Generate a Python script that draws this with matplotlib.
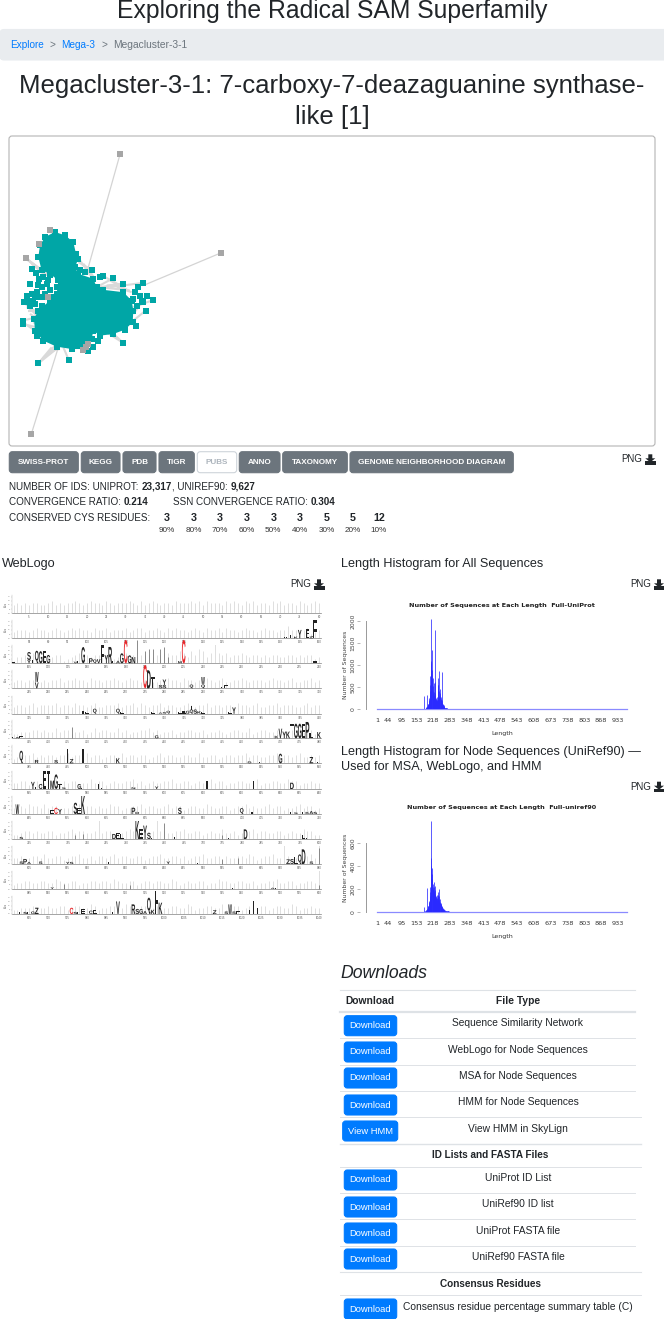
# -*- coding: utf-8 -*-
# Megacluster page: network, weblogo, two length histograms, downloads table
import matplotlib
matplotlib.use("Agg")
import matplotlib.pyplot as plt
from matplotlib.collections import LineCollection
from matplotlib.font_manager import FontProperties
from matplotlib.patches import FancyBboxPatch, PathPatch, Polygon
from matplotlib.textpath import TextPath
from matplotlib.transforms import Affine2D

W, H = 664, 1319
UI_FONT = "Liberation Sans"

# network layout, in layout units
blob_x = [165, 195, 220, 228, 235, 225, 235, 280, 290, 310, 370, 395, 400, 398, 375, 340, 300, 280, 275, 250, 215, 170, 130, 105, 102, 115, 150, 170, 175, 150, 125, 115, 120, 135]
blob_y = [305, 315, 335, 370, 385, 410, 430, 445, 470, 478, 485, 510, 540, 575, 597, 610, 615, 600, 625, 655, 655, 648, 630, 600, 565, 540, 510, 490, 450, 430, 420, 380, 345, 320]
teal_x = [277, 340, 370, 430, 415, 405, 440, 458, 430, 410, 437, 408, 370, 206, 115, 68, 68, 110, 72, 80, 95, 105, 90, 95, 108, 118, 115, 110, 130, 150, 180, 125, 130, 105, 295, 280, 265, 310, 300, 228, 240, 255, 150, 140, 170, 100, 125, 85, 90, 135, 150, 120, 145, 160, 420, 425, 400]
teal_y = [420, 443, 460, 457, 470, 485, 495, 509, 515, 525, 540, 585, 637, 687, 698, 570, 580, 615, 515, 495, 490, 500, 460, 415, 428, 445, 465, 485, 440, 435, 440, 470, 500, 520, 632, 650, 660, 437, 440, 380, 420, 425, 480, 460, 470, 510, 525, 510, 525, 490, 515, 500, 450, 500, 495, 510, 505]
gray_x = [360, 664, 149, 116, 77, 143, 94, 258, 250, 265]
gray_y = [73, 367, 298, 340, 383, 500, 909, 650, 658, 640]
long_x0 = [360, 664, 94]
long_y0 = [73, 367, 909]
long_x1 = [265, 430, 175]
long_y1 = [410, 465, 650]
edge_x0 = [77, 77, 77, 85, 95, 277, 250, 340, 370, 370, 430, 440, 458, 437, 408, 68, 68, 68, 72, 80, 115, 115, 115, 130, 150, 206, 370, 370, 340, 149, 116, 90, 100, 180, 170, 310, 300, 240, 260, 330, 350, 85, 95]
edge_y0 = [383, 383, 383, 390, 400, 420, 400, 443, 460, 460, 457, 495, 509, 540, 585, 570, 580, 575, 515, 530, 698, 698, 698, 680, 660, 687, 637, 637, 615, 298, 340, 550, 575, 460, 490, 437, 470, 390, 410, 450, 470, 540, 560]
edge_x1 = [130, 120, 150, 140, 150, 235, 275, 290, 300, 320, 330, 400, 400, 400, 395, 110, 110, 120, 115, 130, 175, 165, 155, 175, 180, 190, 320, 335, 310, 165, 125, 120, 125, 185, 190, 370, 390, 275, 285, 385, 395, 125, 125]
edge_y1 = [430, 415, 440, 430, 440, 395, 430, 470, 470, 465, 470, 550, 530, 570, 570, 560, 590, 610, 560, 550, 650, 645, 650, 650, 655, 650, 605, 605, 600, 310, 350, 570, 590, 490, 470, 470, 480, 440, 445, 480, 485, 540, 550]

# length histograms
hist_len = list(range(176, 301))
hist_all = [2, 3, 3, 4, 5, 8, 310, 12, 10, 8, 10, 12, 15, 18, 25, 35, 45, 50, 60, 320, 70, 85, 100, 110, 130, 150, 180, 220, 260, 330, 420, 560, 760, 1100, 2050, 1050, 800, 680, 900, 1340, 720, 520, 420, 340, 320, 300, 400, 600, 1800, 620, 380, 300, 260, 240, 220, 210, 200, 190, 220, 280, 420, 560, 540, 700, 870, 420, 300, 260, 320, 470, 360, 280, 220, 200, 240, 850, 220, 170, 130, 110, 100, 95, 105, 90, 70, 60, 50, 40, 35, 30, 28, 25, 22, 20, 25, 22, 20, 18, 15, 15, 14, 12, 12, 10, 10, 9, 8, 8, 7, 7, 6, 6, 5, 5, 4, 4, 4, 3, 3, 3, 2, 2, 2, 2, 1]
hist_node = [1, 1, 2, 2, 3, 3, 40, 4, 3, 3, 4, 5, 6, 8, 10, 14, 18, 20, 25, 210, 30, 35, 40, 50, 55, 65, 75, 85, 100, 120, 140, 170, 220, 300, 790, 470, 400, 380, 330, 290, 240, 220, 200, 190, 180, 170, 220, 260, 230, 190, 160, 150, 140, 130, 120, 115, 110, 105, 120, 145, 135, 125, 150, 170, 200, 140, 110, 100, 115, 90, 80, 75, 70, 65, 60, 50, 45, 40, 35, 32, 30, 28, 25, 22, 20, 18, 16, 14, 13, 12, 11, 10, 9, 9, 12, 9, 8, 7, 7, 6, 6, 5, 5, 4, 4, 4, 3, 3, 3, 3, 2, 2, 2, 2, 2, 1, 1, 1, 1, 1, 1, 1, 1, 1, 1]
hist_ticks = [1, 44, 95, 153, 218, 283, 348, 413, 478, 543, 608, 673, 738, 803, 868, 933]

# weblogo: grey stack height per position, digit = half bits
logo_bars = [
    "45454554456454556545655465455565464565455465556564655546565465645546564554654565",
    "34443454434543454544354453444534553445435454434543544535443454434544344644345234",
    "13344523433441234544344344234544344434455446536476359545344543443434433443434423",
    "34434423434453445443544344543454434533445443544344543453344543444345443453344534",
    "34434534444534435443453344453445354344534433454344534434435443453344534443345344",
    "22333443433534423342353443353423344534233423344334233432344335234433423344534423",
    "23444534344344534435344234435344344234534433443353344234434453443344534434533434",
    "33442343344534344233534423433445342343344533442343353442334433452334433544233433",
    "34435443534423344534434335442334453443345344234433543344234453433453442334534423",
    "22344343344233453443349344233454344349443344533442343353342344534433442343354422",
    "33423443533442344533424434534433442344533443423445334424334435423445339423344539",
    "23344334433543344233443443543344234434433542343344233544334433423344533442334439",
    "22333423343344234433542334433542344334233443354233443352344234334423443354233433",
]

# logo letters per row: position, residue, base in bits, height in bits
logo_r01 = []
logo_r02 = [(71, "T", 0, .4), (72, "L", 0, .4), (73, "L", 0, .8), (74, "K", 0, .4), (75, "Y", 0, 2.0), (77, "E", 0, 2.2), (78, "Z", 0, .5), (79, "F", 0, 4.3)]
logo_r03 = [(1, "F", 0, .4), (5, "S", .8, 1.9), (5, "Y", 0, .8), (6, "T", 0, .9), (7, "Q", 0, 3.0), (8, "G", 0, 2.9), (9, "E", 0, 2.9), (10, "G", 0, 2.0), (17, "V", 0, .4), (18, "L", 0, .5), (19, "G", 0, 3.9), (21, "P", 0, 1.2), (22, "Q", 0, .9), (23, "V", 0, 1.0), (24, "F", 0, 4.3), (25, "Y", 0, 2.0), (26, "R", 0, 3.9), (27, "E", 0, .6), (28, "A", 0, .6), (29, "G", 0, 2.4), (31, "G", 0, 1.9), (32, "N", 0, 1.5), (44, "M", 0, .5), (79, "F", 0, .5)]
logo_r04 = [(7, "W", 1.5, 2.4), (7, "V", 0, 1.4), (36, "D", 0, 4.3), (37, "T", 0, 2.7), (39, "S", 0, .8), (40, "Y", .8, 1.3), (40, "S", 0, .8), (47, "Q", 0, .9), (50, "W", 1.0, 1.7), (50, "Q", 0, .9), (55, "L", 0, .3), (56, "E", 0, .7)]
logo_r05 = [(19, "I", 0, .7), (20, "L", 0, .3), (22, "Q", 0, 1.2), (28, "Q", 0, 1.2), (29, "L", 0, .3), (37, "L", 0, .3), (39, "A", 0, .3), (40, "S", 0, .4), (41, "Q", 0, .7), (44, "L", 0, .5), (45, "E", 0, .6), (46, "G", 0, .7), (47, "Q", 0, 1.0), (47, "T", 1.0, .9), (48, "S", 0, 1.0), (49, "K", 0, .6), (50, "E", 0, .4), (57, "L", 0, .3), (58, "Y", 0, 1.5)]
logo_r06 = [(1, "L", 0, .3), (2, "A", 0, .3), (3, "E", 0, .5), (38, "G", 0, .7), (69, "K", 0, .6), (70, "V", 0, 2.3), (71, "Y", 0, 1.6), (72, "K", 0, 1.6), (73, "T", 0, 3.5), (74, "G", 0, 3.5), (75, "G", 0, 3.5), (76, "E", 0, 3.5), (77, "P", 0, 3.9), (78, "L", 0, 1.2), (80, "K", 0, 1.5)]
logo_r07 = [(3, "Q", 0, 3.0), (7, "R", 0, .8), (12, "S", 0, .8), (15, "I", 0, 3.5), (16, "Z", 0, 1.0), (19, "I", 0, 3.5), (28, "K", 0, 1.2), (62, "G", 0, .5), (65, "L", 0, .3), (70, "G", 0, 2.3), (78, "Z", 0, 1.5), (80, "L", 0, .3)]
logo_r08 = [(6, "Y", 0, 1.7), (7, "L", 0, .5), (8, "C", 0, 1.2), (9, "E", 0, 4.3), (10, "T", 0, 4.3), (11, "M", 0, 2.0), (12, "G", 0, 3.5), (13, "T", 0, 1.2), (14, "S", 0, .4), (18, "G", 0, 1.2), (19, "E", 0, .3), (23, "I", 0, 1.2), (24, "L", 0, .3), (32, "N", 0, .4), (38, "Y", 0, .6), (51, "I", 0, 2.0), (63, "I", 0, 2.0), (73, "D", 0, 1.5)]
logo_r09 = [(2, "W", 0, 2.3), (11, "E", 0, .9), (13, "Y", 0, 1.2), (17, "S", 0, 2.7), (18, "E", 0, 1.5), (19, "K", 0, 4.3), (32, "P", 0, 1.5), (33, "D", 0, .5), (44, "S", 0, 1.5), (60, "Q", 0, 1.4), (63, "L", 0, .4), (73, "L", 0, .4), (74, "S", 0, .4), (76, "E", 0, .5), (77, "K", 0, .5), (78, "A", 0, .7), (79, "S", 0, .5)]
logo_r10 = [(3, "S", 0, .5), (27, "D", 0, 1.2), (28, "E", 0, 1.5), (29, "L", 0, 1.2), (33, "K", 0, 4.3), (34, "E", 0, 2.3), (35, "Y", 0, 3.2), (36, "S", 0, 1.5), (37, "L", 0, .3), (43, "E", 0, .5), (57, "L", 0, .3), (61, "D", 0, 2.3), (76, "E", 0, 1.0), (77, "L", 0, .3)]
logo_r11 = [(3, "S", 0, .6), (4, "P", 0, 1.2), (5, "A", 0, .5), (8, "S", 0, .6), (15, "Y", 0, .5), (16, "S", 0, .5), (26, "L", 0, .4), (41, "Y", 0, .6), (49, "L", 0, .3), (72, "Z", 0, 1.1), (73, "S", 0, 1.2), (74, "L", 0, 1.6), (75, "Q", 0, 2.3), (76, "D", 0, 3.5), (78, "S", 0, .6)]
logo_r12 = [(11, "Y", 0, .4), (58, "E", 0, .3), (68, "A", 0, .3), (69, "L", 0, .3), (70, "E", 0, .3)]
logo_r13 = [(3, "L", 0, .4), (4, "S", 0, .5), (5, "E", 0, .5), (6, "G", 0, .6), (7, "Z", 0, 1.5), (17, "S", 0, .5), (18, "E", 0, .5), (19, "E", 0, 1.2), (21, "C", 0, .8), (22, "E", 0, .9), (27, "L", 0, .4), (28, "V", 0, 3.0), (32, "R", 0, 2.3), (33, "S", 0, 1.2), (34, "G", 0, 1.2), (35, "A", 0, .7), (36, "Q", 0, 3.9), (37, "K", 0, 1.0), (38, "H", 0, 5.4), (39, "K", 0, 2.7), (53, "Z", 0, .9), (56, "S", 0, .6), (57, "W", 0, 2.3), (58, "S", 0, .6), (59, "E", 0, .6), (62, "I", 0, 1.0), (63, "I", 0, 3.1), (64, "I", 0, 1.5)]
logo_letters = [logo_r01, logo_r02, logo_r03, logo_r04, logo_r05, logo_r06, logo_r07, logo_r08, logo_r09, logo_r10, logo_r11, logo_r12, logo_r13]
# cysteines, in red: row, position, height in bits
logo_red = [(3, 30, 5.6), (3, 45, 5.6), (4, 35, 5.6), (9, 12, 1.5), (13, 16, 1.5)]
# narrow dark stacks: row, position, height in bits
thin_row = [3, 3, 3, 3, 3, 3, 3, 6, 10, 10, 10, 10, 11, 11, 11, 12, 12, 12]
thin_pos = [33, 35, 36, 37, 39, 40, 41, 16, 17, 19, 40, 55, 55, 59, 80, 14, 31, 80]
thin_bits = [5.5, 2.9, 3.3, 3.3, 3.5, 3.9, 1.5, 2.8, 1.0, 1.2, 3.9, 1.0, 1.3, 1.5, 3.9, 1.2, 1.0, 1.0]

# tables and captions
btn_labels = ["SWISS-PROT", "KEGG", "PDB", "TIGR", "PUBS", "ANNO", "TAXONOMY", "GENOME NEIGHBORHOOD DIAGRAM"]
cys_counts = ["3", "3", "3", "3", "3", "3", "5", "5", "12"]
cys_pct = ["90%", "80%", "70%", "60%", "50%", "40%", "30%", "20%", "10%"]
file_types = ["Sequence Similarity Network", "WebLogo for Node Sequences", "MSA for Node Sequences", "HMM for Node Sequences", "View HMM in SkyLign"]
id_files = ["UniProt ID List", "UniRef90 ID list", "UniProt FASTA file", "UniRef90 FASTA file"]
consensus_files = ["Consensus residue percentage summary table (C)"]

fig = plt.figure(figsize=(W / 100, H / 100), dpi=100, facecolor="white")
page = fig.add_axes([0, 0, 1, 1])
page.set_xlim(0, W)
page.set_ylim(H, 0)
page.axis("off")
renderer = fig.canvas.get_renderer()


def pt(px):
    return px * 0.72


def label(x, y, s, size, color="#212529", ha="left", weight="normal", style="normal"):
    return page.text(x, y, s, fontsize=pt(size), color=color, ha=ha, va="center", family=UI_FONT, fontweight=weight, fontstyle=style)


def runs(x, y, parts, size):
    # normal and bold pieces one after the other
    for s, weight in parts:
        t = label(x, y, s, size, weight=weight)
        x = t.get_window_extent(renderer).x1


def box(x0, y0, x1, y1, face, edge=None, r=3):
    page.add_patch(FancyBboxPatch((x0, y0), x1 - x0, y1 - y0, boxstyle=f"round,pad=0,rounding_size={r}", facecolor=face, edgecolor=edge or face, linewidth=0.8))


def png_link(x, y):
    label(x, y, "PNG", 9.8)
    ix = x + 24
    page.add_patch(Polygon([(ix + 3, y - 5), (ix + 7, y - 5), (ix + 7, y - 1), (ix + 10, y - 1), (ix + 5, y + 3), (ix, y - 1), (ix + 3, y - 1)], color="#212529", lw=0))
    page.add_patch(Polygon([(ix - 0.5, y + 2), (ix + 10.5, y + 2), (ix + 10.5, y + 5.5), (ix - 0.5, y + 5.5)], color="#212529", lw=0))


# header
label(332, 11, "Exploring the Radical SAM Superfamily", 24.7, ha="center")
box(0, 29.5, W + 5, 60, "#e9ecef", r=4)
label(10, 44.7, "Explore", 10, color="#007bff")
label(49, 44.7, ">", 10, color="#6c757d")
label(60.7, 44.7, "Mega-3", 10, color="#007bff")
label(102, 44.7, ">", 10, color="#6c757d")
label(112.7, 44.7, "Megacluster-3-1", 10.3, color="#6c757d")
label(332, 86, "Megacluster-3-1: 7-carboxy-7-deazaguanine synthase-", 25.7, ha="center")
label(332, 117, "like [1]", 25.7, ha="center")

# network panel
box(9, 136, 655, 446, "white", edge="#b5b5b5", r=3)
net = fig.add_axes([10 / W, 1 - 445 / H, 644 / W, 308 / H])
net.set_xlim(30, 30 + 644 * 3)
net.set_ylim(18 + 309 * 3 - 3, 18 + 3)
net.axis("off")
edges = [((a, b), (c, d)) for a, b, c, d in zip(edge_x0, edge_y0, edge_x1, edge_y1)]
net.add_collection(LineCollection(edges, colors="#d9d9d9", linewidths=1.5, zorder=1))
long_edges = [((a, b), (c, d)) for a, b, c, d in zip(long_x0, long_y0, long_x1, long_y1)]
net.add_collection(LineCollection(long_edges, colors="#d4d4d4", linewidths=0.9, zorder=1))
net.fill(blob_x, blob_y, color="#00a6a6", lw=0, zorder=3)
net.scatter(blob_x, blob_y, marker="s", s=13, color="#00a6a6", lw=0, zorder=3)
net.scatter(teal_x, teal_y, marker="s", s=17, color="#00a6a6", lw=0, zorder=3)
net.scatter(gray_x, gray_y, marker="s", s=17, color="#a6a6a6", lw=0, zorder=4)

# buttons
btn_x0 = [9.3, 81.3, 123, 159, 197.3, 239.3, 282.7, 350]
btn_x1 = [78.3, 120, 156, 194.3, 236.7, 280, 347.3, 513.3]
for s, a, b in zip(btn_labels, btn_x0, btn_x1):
    if s == "PUBS":
        box(a, 451.7, b, 472.7, "white", edge="#ced4da")
        label((a + b) / 2, 462.3, s, 8.1, color="#adb5bd", ha="center", weight="bold")
    else:
        box(a, 451.7, b, 472.7, "#6c757d")
        label((a + b) / 2, 462.3, s, 8.1, color="white", ha="center", weight="bold")
png_link(621.3, 459.3)

# stats block
runs(9.3, 486.7, [("NUMBER OF IDS: UNIPROT: ", "normal"), ("23,317", "bold"), (", UNIREF90: ", "normal"), ("9,627", "bold")], 9.9)
runs(9.3, 502.3, [("CONVERGENCE RATIO: ", "normal"), ("0.214", "bold")], 9.9)
runs(173.3, 502.3, [("SSN CONVERGENCE RATIO: ", "normal"), ("0.304", "bold")], 9.9)
label(9.3, 517.7, "CONSERVED CYS RESIDUES:", 9.9)
cys_x = [166.7, 194, 220, 246.7, 273.3, 300, 326.7, 353, 379]
for cx, c, p in zip(cys_x, cys_counts, cys_pct):
    label(cx, 517.7, c, 10.8, ha="center", weight="bold")
    label(cx, 530, p, 8.2, ha="center", color="#333333")

# section titles
label(1.7, 564.3, "WebLogo", 12.6)
png_link(290, 584.3)
label(341.3, 564.3, "Length Histogram for All Sequences", 12.6)
png_link(630, 584.3)
label(341.3, 751.7, "Length Histogram for Node Sequences (UniRef90) \u2014", 12.6)
label(341.3, 766.7, "Used for MSA, WebLogo, and HMM", 12.6)
png_link(630, 786.7)

# weblogo rows
row_base = [613.3, 638.3, 663.3, 688.3, 713.7, 738.3, 763.3, 789, 814, 839, 864, 889, 914]
logo_font = FontProperties(family="Liberation Sans", weight="bold")
rows = []
for r, base in enumerate(row_base):
    a = fig.add_axes([11.6 / W, 1 - base / H, 309.4 / W, 18 / H])
    a.set_xlim(0.5, 80.5)
    a.set_ylim(0, 4.3)
    a.patch.set_alpha(0)
    for side in ["top", "right"]:
        a.spines[side].set_visible(False)
    a.spines["bottom"].set_color("#808080")
    a.spines["left"].set_color("#b0b0b0")
    a.spines["bottom"].set_linewidth(0.5)
    a.spines["left"].set_linewidth(0.3)
    heights = [int(d) / 2 for d in logo_bars[r]]
    a.vlines(range(1, len(heights) + 1), 0, heights, color="#d2d2d2", lw=0.5)
    tick_pos = list(range(5, 81, 5))
    a.set_xticks(tick_pos)
    a.set_xticklabels([str(r * 80 + t) for t in tick_pos], fontsize=1.9, color="#555555")
    a.set_yticks([0, 1, 2, 3, 4])
    a.set_yticklabels(["0", "1", "2", "3", "4"], fontsize=1.7, color="#666666")
    a.tick_params(length=0.8, width=0.2, pad=0.5, color="#999999")
    a.set_ylabel("bits", fontsize=2.0, color="#555555", labelpad=0.3)
    rows.append(a)


def letter(a, pos, base, tall, ch, color):
    # stretch the glyph to one position wide and its height in bits
    tp = TextPath((0, 0), ch, size=1, prop=logo_font)
    bb = tp.get_extents()
    wide = 0.35 if ch == "I" else 0.95
    tr = Affine2D().translate(-bb.x0, -bb.y0).scale(wide / bb.width, tall / bb.height).translate(pos - wide / 2, base)
    p = PathPatch(tp, transform=tr + a.transData, facecolor=color, edgecolor="none", zorder=3)
    p.set_clip_on(False)
    a.add_patch(p)


for a, row_letters in zip(rows, logo_letters):
    for pos, ch, base, tall in row_letters:
        letter(a, pos, base, tall, ch, "#222222")
for r, pos, tall in zip(thin_row, thin_pos, thin_bits):
    rows[r - 1].vlines(pos, 0, tall, color="#777777", lw=0.6, zorder=2, clip_on=False)
for r, pos, tall in logo_red:
    letter(rows[r - 1], pos, 0, tall, "C", "#e8262a")

# length histograms
px_per = (617.7 - 377) / 932


def histogram(y0_px, y_px_per, counts, yticks, title, title_y):
    left, right = 360, 640
    top = title_y + 3
    a = fig.add_axes([left / W, 1 - y0_px / H, (right - left) / W, (y0_px - top) / H])
    a.set_xlim(1 + (left - 377) / px_per, 1 + (right - 377) / px_per)
    a.set_ylim(0, (y0_px - top) / y_px_per)
    a.patch.set_alpha(0)
    for side in a.spines.values():
        side.set_visible(False)
    a.plot([1, 970], [0, 0], color="#8a8aff", lw=0.9, zorder=1, clip_on=False)
    a.vlines(hist_len, 0, counts, color="#2a2aff", lw=0.72, alpha=0.75, zorder=2)
    x_axis = 1 + (365.7 - 377) / px_per
    a.plot([x_axis, x_axis], [yticks[0], yticks[-1]], color="#999999", lw=0.7, clip_on=False)
    a.set_yticks(yticks)
    a.set_yticklabels([str(v) for v in yticks], fontsize=pt(6.2), rotation=90, va="center", color="#444444")
    a.tick_params(axis="y", length=2.2, width=0.5, color="#999999", pad=1)
    a.set_xticks([])
    for t in hist_ticks:
        page.text(377 + (t - 1) * px_per, y0_px + 11.4, str(t), fontsize=pt(6.5), ha="center", va="center", color="#333333", family="DejaVu Sans")
    page.text(502, y0_px + 24.7, "Length", fontsize=pt(6.3), ha="center", va="center", color="#333333", family="DejaVu Sans")
    page.text(345, y0_px - 44, "Number of Sequences", fontsize=pt(6.2), rotation=90, ha="center", va="center", color="#444444", family="DejaVu Sans")
    page.text(502, title_y, title, fontsize=pt(6.5), ha="center", va="center", color="#222222", family="DejaVu Sans", fontweight="bold")


histogram(709.3, 88.3 / 2000, hist_all, [0, 500, 1000, 1500, 2000], "Number of Sequences at Each Length  Full-UniProt", 605.3)
histogram(912, 69 / 600, hist_node, [0, 200, 400, 600], "Number of Sequences at Each Length  Full-uniref90", 807.3)

# downloads table
label(340, 973, "Downloads", 17.6, style="italic")
for y, lw, right in [(990, 0.8, 635), (1011.7, 1.6, 635), (1038.3, 0.7, 635), (1065, 0.7, 635), (1091, 0.7, 635), (1117, 0.7, 641), (1144, 1.0, 641), (1166.7, 0.7, 641), (1193, 0.7, 635), (1219.3, 0.7, 635), (1246, 0.7, 635), (1272, 0.8, 641), (1295, 0.7, 641)]:
    page.plot([340, right], [y, y], color="#dee2e6", lw=lw)
label(370, 1001, "Download", 10.2, ha="center", weight="bold")
label(518, 1001, "File Type", 10.2, ha="center", weight="bold")


def download_row(y_btn, y_txt, s, btn="Download"):
    if btn == "Download":
        box(344.3, y_btn, 396.7, y_btn + 20, "#007bff")
    else:
        box(342.7, y_btn, 397.7, y_btn + 20, "#007bff")
    label(370.3, y_btn + 10, btn, 9.4, color="white", ha="center")
    label(518, y_txt, s, 10.2, ha="center")


main_btn_y = [1015.7, 1042, 1068, 1095, 1121]
main_txt_y = [1023.3, 1050, 1076, 1102, 1129]
for i, (by, ty, s) in enumerate(zip(main_btn_y, main_txt_y, file_types)):
    download_row(by, ty, s, "View HMM" if i == 4 else "Download")
label(490, 1155, "ID Lists and FASTA Files", 10, ha="center", weight="bold")
for by, ty, s in zip([1170, 1197, 1223, 1249], [1178, 1204, 1231, 1257], id_files):
    download_row(by, ty, s)
label(490, 1284, "Consensus Residues", 10, ha="center", weight="bold")
download_row(1299, 1306.7, consensus_files[0])

fig.savefig("out.png", dpi=100, facecolor="white")
